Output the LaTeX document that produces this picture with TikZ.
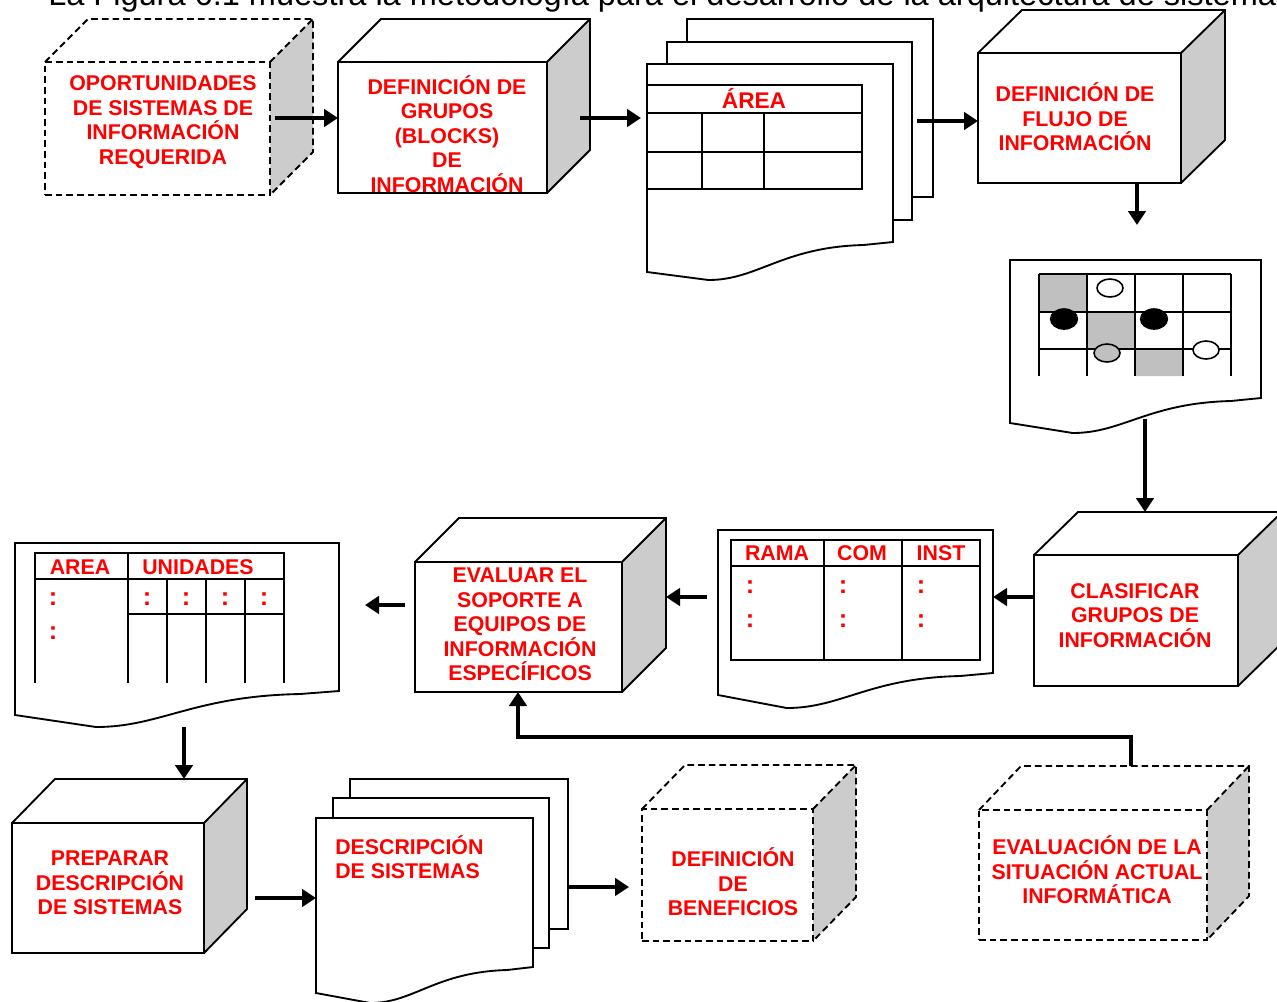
\documentclass[tikz,border=0pt]{standalone}
\usepackage{fontspec}
\setmainfont{Liberation Sans}
\usetikzlibrary{arrows.meta,calc,backgrounds}

\definecolor{labelred}{RGB}{255,0,0}
\definecolor{sidegray}{RGB}{204,204,204}
\definecolor{cellgray}{RGB}{192,192,192}

\tikzset{
  outline/.style={line width=1.4pt, line join=miter},
  dashedline/.style={dash pattern=on 5pt off 3pt},
  cubefront/.style 2 args={draw, outline, minimum width=#1*0.75pt, minimum height=#2*0.75pt, inner sep=0pt, outer sep=0pt},
  ghost/.style 2 args={minimum width=#1*0.75pt, minimum height=#2*0.75pt, inner sep=0pt, outer sep=0pt},
  sheet/.style 2 args={ghost={#1}{#2}, draw, fill=white, outline},
  lbl/.style={text=labelred, font=\fontsize{16}{18.4}\selectfont\bfseries, align=center, inner sep=0pt},
  dots/.style={text=labelred, font=\fontsize{19}{20}\selectfont\bfseries, inner sep=0pt},
  arr/.style={line width=3.6pt, -{Triangle[length=10.5pt,width=13pt]}},
  gridline/.style={line width=1.4pt},
}

% top and right faces of a box whose front face is node #1
\newcommand\cubefaces[4]{%
  \begin{pgfonlayer}{background}
    \fill[sidegray] (#1.north east) -- ++(#3,#4) -- ($(#1.south east)+(#3,#4)$) -- (#1.south east) -- cycle;
  \end{pgfonlayer}
  \draw[outline,#2] (#1.north west) -- ++(#3,#4) -- ($(#1.north east)+(#3,#4)$) -- ($(#1.south east)+(#3,#4)$) -- (#1.south east);
  \draw[outline,#2] (#1.north east) -- ++(#3,#4);
}

% document sheet with a wavy lower edge: x1 y1 x2 yRight yLeft yLowest
\newcommand\docshape[6]{%
  \filldraw[outline,fill=white] (#1,#2) -- (#3,#2) -- (#3,#4)
    -- ({#3-0.12*(#3-#1)},{#4+3})
    .. controls ({#1+0.55*(#3-#1)},{#4+5}) and ({#1+0.45*(#3-#1)},#6) .. ({#1+0.25*(#3-#1)},#6)
    -- (#1,#5) -- cycle;
}

\begin{document}
\begin{tikzpicture}[x=0.75pt,y=-0.75pt]
\path[use as bounding box] (0,0) rectangle (1277,1001);
\clip (0,0) rectangle (1277,1001);

% heading line
\node[anchor=base west, font=\fontsize{24.4}{28}\selectfont, inner sep=0pt] (title) at (48,5)
  {La Figura 6.1 muestra la metodología para el desarrollo de la arquitectura de sistemas};

% ---------- boxes ----------
\node[cubefront={225}{133}, dashedline] (c1) at (157.5,128.5) {};
\cubefaces{c1}{dashedline}{43}{-43}
\node[lbl] (t1) at (163,122) {OPORTUNIDADES\\DE SISTEMAS DE\\INFORMACIÓN\\REQUERIDA};

\node[cubefront={209}{131}] (c2) at (442.5,127.5) {};
\cubefaces{c2}{}{43}{-43}
\node[lbl] (t2) at (447,134) {DEFINICIÓN DE\\GRUPOS\\(BLOCKS)\\DE\\INFORMACIÓN};

\node[cubefront={203}{130}] (c4) at (1079.5,118) {};
\cubefaces{c4}{}{44}{-43}
\node[lbl] (t4) at (1075,117) {DEFINICIÓN DE\\FLUJO DE\\INFORMACIÓN};

\node[cubefront={204}{131}] (c5) at (1136,620.5) {};
\cubefaces{c5}{}{44}{-43}
\node[lbl] (t5) at (1135,615.5) {CLASIFICAR\\GRUPOS DE\\INFORMACIÓN};

\node[cubefront={207}{130}] (c6) at (518.5,627) {};
\cubefaces{c6}{}{44}{-44}
\node[lbl] (t6) at (520,624.5) {EVALUAR EL\\SOPORTE A\\EQUIPOS DE\\INFORMACIÓN\\ESPECÍFICOS};

\node[cubefront={192}{130}] (c7) at (108,888) {};
\cubefaces{c7}{}{43}{-44}
\node[lbl] (t7) at (110,883) {PREPARAR\\DESCRIPCIÓN\\DE SISTEMAS};

\node[cubefront={171}{132}, dashedline] (c8) at (727.5,875) {};
\cubefaces{c8}{dashedline}{43}{-44}
\node[lbl] (t8) at (733,882) {DEFINICIÓN\\DE\\BENEFICIOS};

\node[cubefront={228}{130}, dashedline] (c9) at (1093,875) {};
\cubefaces{c9}{dashedline}{42}{-44}
\node[lbl] (t9) at (1097,870) {EVALUACIÓN DE LA\\SITUACIÓN ACTUAL\\INFORMÁTICA};

% ---------- stack of area sheets ----------
\node[sheet={246}{178}] (dAb) at (810,108) {};
\node[sheet={245}{178}] (dAm) at (789.5,131) {};
\docshape{647}{64}{893}{242}{272}{280}
\node[ghost={246}{178}] (dA) at (770,153) {};
\draw[gridline] (647,85) rectangle (862,189);
\draw[gridline] (647,113) -- (862,113) (647,152) -- (862,152)
  (702,113) -- (702,189) (764,113) -- (764,189);
\node[lbl, font=\fontsize{17}{20}\selectfont\bfseries] (hArea) at (754,98) {ÁREA};

% ---------- flow grid sheet ----------
\docshape{1010}{260}{1261}{398}{423}{433}
\node[ghost={251}{138}] (dB) at (1135.5,329) {};
\fill[cellgray] (1039,274) rectangle (1087,312) (1087,312) rectangle (1135,349) (1135,349) rectangle (1183,376);
\draw[gridline] (1039,274) -- (1231,274) (1039,312) -- (1231,312) (1039,349) -- (1231,349);
\foreach \gx in {1039,1087,1135,1183,1231} \draw[gridline] (\gx,274) -- (\gx,376);
\filldraw[line width=1.2pt, fill=white] (1110,288) ellipse [x radius=9.75pt, y radius=6.75pt];
\filldraw[line width=1.2pt, fill=black] (1064,319) ellipse [x radius=10pt, y radius=7.5pt];
\filldraw[line width=1.2pt, fill=black] (1154,319) ellipse [x radius=10pt, y radius=7.5pt];
\filldraw[line width=1.2pt, fill=cellgray] (1107,353) ellipse [x radius=9.75pt, y radius=6.75pt];
\filldraw[line width=1.2pt, fill=white] (1206,350) ellipse [x radius=9.75pt, y radius=6.75pt];
\coordinate (dBout) at (1145,419);

% ---------- rama / com / inst sheet ----------
\docshape{718}{530}{993}{673}{695}{708}
\node[ghost={275}{143}] (dC) at (855.5,601.5) {};
\draw[gridline] (731,540) rectangle (980,660);
\draw[gridline] (731,566) -- (980,566) (824,540) -- (824,660) (902,540) -- (902,660);
\node[lbl] (hRama) at (777,553) {RAMA};
\node[lbl] (hCom) at (862,553) {COM};
\node[lbl] (hInst) at (941,553) {INST};
\foreach \cx/\nm in {750/rama,843/com,921/inst} {
  \node[dots] (dots-\nm-a) at (\cx,587) {:};
  \node[dots] (dots-\nm-b) at (\cx,621.5) {:};
}

% ---------- area / unidades sheet ----------
\docshape{15}{543}{339}{691}{715}{727}
\node[ghost={324}{148}] (dD) at (177,617) {};
\draw[gridline] (35,683) -- (35,553) -- (284,553) -- (284,683);
\draw[gridline] (35,579) -- (284,579) (128,553) -- (128,683)
  (167,579) -- (167,683) (206,579) -- (206,683) (245,579) -- (245,683)
  (128,614) -- (284,614);
\node[lbl] (hAr) at (80,567) {AREA};
\node[lbl] (hUn) at (198,567) {UNIDADES};
\node[dots] (dots-area-a) at (53,599.5) {:};
\node[dots] (dots-area-b) at (53,633.5) {:};
\foreach \ux/\nm in {147/1,186/2,225/3,264/4} \node[dots] (dots-unid-\nm) at (\ux,599.5) {:};
\coordinate (dDout) at (184,727);

% ---------- stack of system description sheets ----------
\node[sheet={218}{150}] (dEb) at (459,854) {};
\node[sheet={216}{150}] (dEm) at (441,873) {};
\docshape{316}{818}{533}{967}{993}{1003}
\node[ghost={217}{149}] (dE) at (424.5,892.5) {};
\node[lbl, align=left, anchor=west] (tE) at (335,857) {DESCRIPCIÓN\\DE SISTEMAS};

% ---------- connectors ----------
\draw[arr] ($(c1.east |- 0,118)+(5,0)$) -- (c2.west |- 0,118);
\draw[arr] ($(c2.east |- 0,118)+(33,0)$) -- ($(dA.west |- 0,118)+(-6,0)$);
\draw[arr] ($(dAb.east |- 0,121)+(-16,0)$) -- (c4.west |- 0,121);
\draw[arr] (c4.south -| 1137,0) -- ($(dB.north -| 1137,0)+(0,-35)$);
\draw[arr] (dBout) -- ($(c5.north -| 1145,0)+(0,-43)$);
\draw[arr] (c5.west |- 0,597) -- (dC.east |- 0,597);
\draw[arr] ($(dC.west |- 0,597)+(-11,0)$) -- ($(c6.east |- 0,597)+(44,0)$);
\draw[arr] ($(c6.west |- 0,605)+(-10,0)$) -- ($(dD.east |- 0,605)+(26,0)$);
\draw[arr] (dDout) -- ($(c7.north -| 184,0)+(0,-44)$);
\draw[arr] ($(c7.east |- 0,898)+(51,0)$) -- (dE.west |- 0,898);
\draw[arr] (dEb.east |- 0,887) -- ($(c8.west |- 0,887)+(-13,0)$);
\draw[arr, line join=miter] ($(c9.north -| 1131,0)+(0,-44)$) -- ++(0,-29) -| (c6.south -| 518,0);
\end{tikzpicture}
\end{document}
